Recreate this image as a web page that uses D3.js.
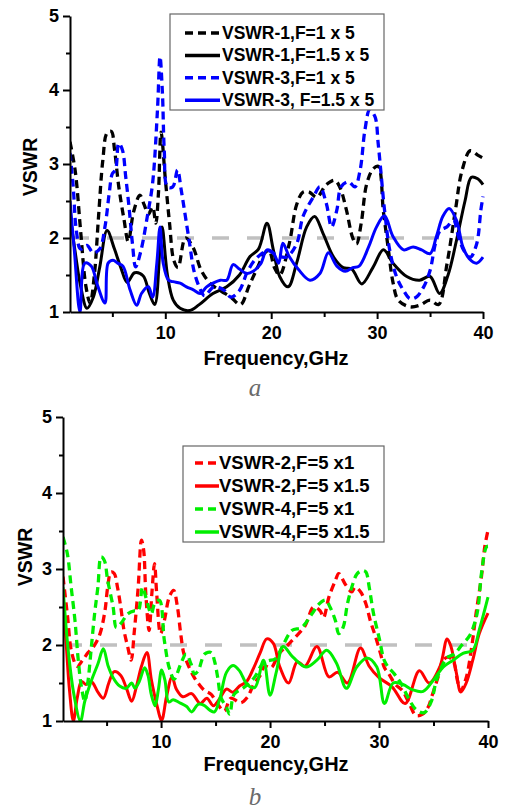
<!DOCTYPE html>
<html>
<head>
  <script src="https://d3js.org/d3.v7.min.js"></script>
  <style>
    body, html { margin: 0; padding: 0; background: #fff; }
    text { font-family: Arial, "Liberation Sans", sans-serif; }
    .tick text { font-size: 18px; font-weight: bold; fill: #000; }
    .tick line { stroke: #000; stroke-width: 2; }
    .domain { stroke: #000; stroke-width: 2; }
  </style>
</head>
<body>
  <div id="chart"></div>

  <script>
    // ---- data: [frequency GHz, VSWR] ----
    const yTicks = [1, 2, 3, 4, 5];
    const yMinor = [1.5, 2.5, 3.5, 4.5];
    const xTicks = [10, 20, 30, 40];
    const xMinor = [5, 15, 25, 35];
    const refLevel = 2;

    // panel a
    const labelsA = ["VSWR-1,F=1 x 5", "VSWR-1,F=1.5 x 5", "VSWR-3,F=1 x 5", "VSWR-3, F=1.5 x 5"];
    const vswr1_1x5 = [[1,3.3],[1.5,2.9],[2,2.1],[2.5,1.35],[2.9,1.12],[3.3,1.5],[3.7,2.3],[4.1,3.05],[4.5,3.42],[4.9,3.44],[5.2,3.2],[5.6,2.7],[6.1,2.25],[6.5,1.95],[7,2.35],[7.6,2.58],[8,2.45],[8.4,2.32],[8.8,2.42],[9.1,2.2],[9.35,2.6],[9.6,3.43],[10,2.8],[10.4,2.2],[10.8,1.7],[11.2,1.6],[11.9,2],[12.6,1.88],[13.4,1.56],[14.3,1.38],[15.3,1.28],[16.2,1.2],[17.1,1.1],[17.9,1.35],[18.7,1.6],[19.4,1.8],[19.8,1.83],[20.3,1.6],[20.8,1.5],[21.7,1.92],[22.4,2.45],[23,2.62],[23.6,2.62],[24.3,2.55],[25.2,2.72],[26,2.78],[26.5,2.68],[27.1,2.38],[27.7,2],[28.05,1.92],[28.5,2.2],[29,2.72],[29.6,2.93],[30.1,2.97],[30.6,2.35],[31.06,1.85],[31.5,1.4],[32,1.16],[33.1,1.07],[34,1.09],[35,1.16],[35.8,1.1],[36.6,1.65],[37.4,2.38],[38,2.9],[38.8,3.18],[39.5,3.12],[40,3.08]];
    const vswr1_15x5 = [[1,2.3],[1.5,1.8],[2,1.35],[2.6,1.05],[3.2,1.2],[3.8,1.6],[4.5,2.1],[5.2,1.85],[5.8,1.6],[6.4,1.4],[7.1,1.53],[7.9,1.49],[8.5,1.25],[9,1.1],[9.5,1.88],[9.7,2.15],[10.2,1.5],[10.75,1.16],[11.4,1.05],[12.3,1.02],[13.2,1.1],[14.5,1.25],[15.8,1.34],[17,1.5],[18,1.75],[18.8,1.85],[19.6,2.2],[20.2,1.84],[20.8,1.48],[21.6,1.34],[22.4,1.66],[23.35,2.15],[24.1,2.29],[24.9,2.06],[25.9,1.74],[26.8,1.6],[27.6,1.58],[28.55,1.38],[29.6,1.6],[30.6,1.84],[31.5,1.66],[32.8,1.48],[34,1.43],[35,1.48],[35.9,1.25],[36.7,1.5],[37.5,1.97],[38.3,2.5],[38.9,2.82],[39.5,2.8],[40,2.72]];
    const vswr3_1x5 = [[1,3.15],[1.3,2.7],[1.6,2.1],[2,1.85],[2.6,1.9],[3.2,1.8],[3.8,1.85],[4.3,2.15],[4.7,2.6],[5,2.87],[5.3,2.92],[5.6,3.28],[5.95,3.19],[6.26,2.83],[6.6,2.38],[6.9,1.92],[7.2,1.61],[7.7,1.83],[8.3,2.29],[8.8,2.74],[9.26,3.73],[9.5,4.45],[9.73,3.95],[9.9,3.19],[10.2,2.69],[10.7,2.69],[11.15,2.92],[11.5,2.65],[11.8,2.38],[12.3,1.92],[12.7,1.56],[13.2,1.34],[13.7,1.22],[14.6,1.34],[15.6,1.29],[16.2,1.2],[17,1.29],[17.8,1.56],[18.7,1.74],[19.7,1.83],[20.4,1.78],[21.4,1.74],[22.4,1.92],[23,2.29],[24,2.56],[24.6,2.69],[25.2,2.47],[25.7,2.15],[26.2,2.38],[26.6,2.69],[27.3,2.76],[27.9,2.69],[28.4,2.92],[28.85,3.46],[29.3,3.73],[29.8,3.64],[30.1,3.28],[30.4,2.83],[30.7,2.38],[31.2,1.83],[31.85,1.47],[32.5,1.29],[33.1,1.18],[33.7,1.2],[34.4,1.34],[35,1.56],[35.5,1.92],[35.95,2.1],[36.6,2.15],[37.2,2.24],[37.7,2.01],[38.2,1.83],[38.8,1.74],[39.4,1.92],[39.8,2.38],[40,2.56]];
    const vswr3_15x5 = [[1,2.5],[1.4,1.85],[1.94,1],[2.4,1.66],[3,1.62],[3.6,1.36],[4.3,1.12],[4.6,1.66],[5.06,1.7],[5.5,1.66],[6,1.62],[6.67,1.3],[7.3,1.09],[7.75,1.25],[8.4,1.34],[8.8,1.2],[9.2,1.66],[9.5,2.15],[9.8,1.66],[10.3,1.43],[10.75,1.41],[11.4,1.39],[12,1.34],[12.65,1.3],[13.3,1.25],[13.9,1.34],[14.5,1.39],[15.2,1.43],[15.8,1.43],[16.4,1.64],[17,1.58],[17.7,1.52],[18.3,1.55],[19,1.65],[19.6,1.84],[20.2,1.8],[20.7,1.66],[21.1,1.93],[21.7,1.75],[22.6,1.57],[23.66,1.43],[24.6,1.52],[25.4,1.8],[26.2,1.62],[27,1.55],[27.7,1.6],[28.3,1.62],[29.2,1.88],[29.95,2.15],[30.7,2.3],[31.5,2.02],[32.5,1.84],[33.4,1.88],[34.2,1.84],[35,1.79],[35.6,2.02],[36.2,2.29],[36.8,2.4],[37.5,2.24],[38.1,1.88],[38.7,1.72],[39.4,1.66],[40,1.74]];

    // panel b
    const labelsB = ["VSWR-2,F=5 x1", "VSWR-2,F=5 x1.5", "VSWR-4,F=5 x1", "VSWR-4,F=5 x1.5"];
    const vswr2_5x1 = [[1,2.9],[1.4,2.4],[1.8,1.9],[2.3,1.72],[2.8,1.8],[3.3,1.9],[3.9,2],[4.4,2.15],[4.85,2.45],[5.1,2.76],[5.4,2.96],[5.7,2.94],[6,2.76],[6.3,2.5],[6.6,2.19],[6.95,1.97],[7.25,1.8],[7.55,2.19],[7.9,2.76],[8.2,3.38],[8.4,3.25],[8.6,2.67],[8.9,2.19],[9.15,2.67],[9.4,3.07],[9.6,2.67],[9.95,2.15],[10.3,2.32],[10.75,2.63],[11.15,2.72],[11.5,2.5],[11.8,2.15],[12.1,1.88],[12.6,1.7],[13.05,1.57],[13.5,1.48],[14,1.4],[14.6,1.35],[15.2,1.22],[15.8,1.13],[16.4,1.3],[17.3,1.24],[17.9,1.31],[18.5,1.48],[19.1,1.6],[19.5,1.72],[20.1,1.7],[20.8,1.88],[21.7,2.01],[22.3,2.1],[23.2,2.25],[24,2.5],[24.6,2.45],[24.9,2.36],[25.4,2.63],[26,2.85],[26.3,2.94],[26.9,2.8],[27.5,2.7],[27.8,2.76],[28.3,2.7],[28.8,2.54],[29.2,2.32],[29.7,2.1],[30.15,1.88],[30.5,1.7],[30.9,1.62],[31.5,1.48],[32.15,1.4],[32.8,1.22],[33.4,1.07],[34,1.09],[34.5,1.18],[34.9,1.35],[35.4,1.57],[35.85,1.79],[36.3,1.84],[36.8,1.79],[37.2,1.53],[37.5,1.4],[38,1.57],[38.5,1.97],[38.9,2.41],[39.4,2.9],[39.7,3.29],[40,3.51]];
    const vswr2_5x15 = [[1,2.65],[1.3,2],[1.6,1.4],[1.95,1],[2.3,1.3],[2.7,1.52],[3.1,1.48],[3.6,1.52],[4.2,1.38],[4.7,1.3],[5.2,1.5],[5.7,1.65],[6.3,1.6],[6.85,1.42],[7.3,1.26],[7.75,1.46],[8.2,1.72],[8.7,1.9],[9.1,1.55],[9.6,1.22],[10.05,1.01],[10.5,1.32],[11,1.58],[11.4,1.42],[12,1.32],[12.8,1.36],[13.6,1.23],[14.2,1.3],[14.8,1.2],[15.4,1.3],[16,1.42],[16.6,1.38],[17.2,1.46],[17.85,1.52],[18.5,1.7],[19.1,1.9],[19.7,2.08],[20.3,2.02],[20.9,1.71],[21.7,1.5],[22.5,1.78],[23.2,1.72],[24.3,1.98],[25.4,1.58],[26.2,1.64],[27.1,1.5],[28.3,1.96],[29.1,1.72],[30,1.57],[31.2,1.45],[32.4,1.23],[33.7,1.66],[34.6,1.5],[35.6,1.72],[36.25,2.08],[36.6,1.98],[37.1,1.63],[37.5,1.38],[38,1.5],[38.6,1.8],[39.2,2.15],[40,2.42]];
    const vswr4_5x1 = [[1,3.42],[1.4,3.2],[1.75,2.76],[2.1,2.32],[2.4,1.8],[2.7,1.44],[3,1.26],[3.3,1.53],[3.6,1.97],[3.9,2.41],[4.2,2.76],[4.5,3.16],[4.8,3.11],[5.1,2.85],[5.6,2.5],[5.9,2.23],[6.3,2.28],[6.95,2.41],[7.55,2.45],[7.9,2.45],[8.3,2.76],[8.6,2.63],[9.1,2.41],[9.4,2.54],[9.85,2.59],[10.3,2.06],[10.75,1.7],[11.2,1.55],[11.8,1.75],[12.3,1.88],[12.75,1.75],[13.05,1.62],[13.4,1.66],[14,1.88],[14.6,1.9],[14.9,1.79],[15.2,1.57],[15.5,1.31],[16,1.18],[16.3,1.09],[16.7,1.35],[17.6,1.44],[18.55,1.57],[19.3,1.75],[19.8,1.79],[20.5,1.82],[21.1,1.97],[22,2.19],[22.9,2.23],[23.85,2.41],[24.5,2.54],[25.1,2.59],[25.5,2.5],[26,2.32],[26.3,2.15],[26.7,2.23],[27.1,2.54],[27.5,2.76],[28,2.94],[28.5,2.98],[28.8,2.96],[29.1,2.76],[29.5,2.41],[30,2.1],[30.5,1.79],[30.9,1.7],[31.4,1.62],[32,1.5],[32.7,1.3],[33.4,1.15],[34.15,1.11],[34.8,1.26],[35.2,1.5],[35.7,1.7],[36.3,1.84],[36.9,1.88],[37.6,2],[38.3,2.12],[38.8,2.3],[39.1,2.5],[39.4,2.94],[39.85,3.29],[40,3.3]];
    const vswr4_5x15 = [[1,2.76],[1.5,1.9],[2,1.35],[2.6,1],[3,1.26],[3.6,1.53],[4.2,1.75],[4.7,1.95],[5.15,1.72],[5.6,1.57],[6.2,1.46],[6.8,1.43],[7.3,1.5],[7.6,1.43],[8,1.52],[8.5,1.7],[8.8,1.6],[9.1,1.35],[9.45,1.2],[9.75,1.41],[10.05,1.67],[10.35,1.54],[10.7,1.25],[11.1,1.28],[11.7,1.24],[12.35,1.19],[12.8,1.12],[13.4,1.22],[13.9,1.21],[14.5,1.14],[14.9,1.12],[15.4,1.3],[16,1.64],[16.6,1.73],[17.2,1.66],[17.9,1.48],[18.6,1.44],[19.4,1.8],[20,1.34],[20.6,1.66],[21.2,1.98],[22.1,1.84],[23.3,1.71],[24.3,1.8],[25.2,1.93],[26.1,1.76],[27,1.43],[27.95,1.71],[28.9,1.83],[29.8,1.71],[30.5,1.23],[31.3,1.5],[32.2,1.48],[33.1,1.41],[34.05,1.39],[35,1.54],[35.9,1.71],[36.8,1.8],[37.7,1.89],[38.6,1.93],[39.2,2.2],[40,2.63]];

    const W = 506, H = 810;
    const svg = d3.select("#chart").append("svg")
      .attr("width", W)
      .attr("height", H);

    function drawPanel(p) {
      const x = d3.scaleLinear().domain([1, 40]).range(p.xRange);
      const y = d3.scaleLinear().domain([1, 5]).range(p.yRange);
      const g = svg.append("g");

      // clip curves to plot area
      g.append("clipPath").attr("id", p.id + "-clip")
        .append("rect")
        .attr("x", p.xRange[0]).attr("y", p.yRange[1] - 5)
        .attr("width", p.xRange[1] - p.xRange[0] + 2)
        .attr("height", p.yRange[0] - p.yRange[1] + 5);

      // grey reference line at VSWR = 2
      g.append("line")
        .attr("x1", x(1) + 2).attr("x2", x(40) - 6)
        .attr("y1", y(refLevel)).attr("y2", y(refLevel))
        .attr("stroke", "#c0c0c0").attr("stroke-width", 3.5)
        .attr("stroke-dasharray", "17,18");

      const line = d3.line()
        .x(d => x(d[0]))
        .y(d => y(d[1]))
        .curve(d3.curveCatmullRom.alpha(0.5));

      const plot = g.append("g").attr("clip-path", `url(#${p.id}-clip)`);
      p.series.forEach(s => {
        plot.append("path")
          .datum(s.data)
          .attr("fill", "none")
          .attr("stroke", s.color)
          .attr("stroke-width", s.dash ? 3.3 : 3)
          .attr("stroke-dasharray", s.dash ? "8,5" : null)
          .attr("stroke-linejoin", "round")
          .attr("d", line);
      });

      // axes
      g.append("g")
        .attr("transform", `translate(${p.xRange[0]},0)`)
        .call(d3.axisLeft(y).tickValues(yTicks).tickSize(7).tickSizeOuter(0).tickFormat(d3.format("d")))
        .call(a => a.selectAll(".tick text").attr("dx", "-1"));
      g.append("g")
        .attr("transform", `translate(${p.xRange[0]},0)`)
        .call(d3.axisLeft(y).tickValues(yMinor).tickSize(4).tickSizeOuter(0).tickFormat(""))
        .call(a => a.select(".domain").remove());
      g.append("g")
        .attr("transform", `translate(0,${p.yRange[0]})`)
        .call(d3.axisBottom(x).tickValues(xTicks).tickSize(7).tickSizeOuter(0).tickFormat(d3.format("d")))
        .call(a => a.selectAll(".tick text").attr("dy", "0.95em"));
      g.append("g")
        .attr("transform", `translate(0,${p.yRange[0]})`)
        .call(d3.axisBottom(x).tickValues(xMinor).tickSize(5).tickSizeOuter(0).tickFormat(""))
        .call(a => a.select(".domain").remove());

      // axis titles
      g.append("text")
        .attr("transform", `translate(${p.yTitle[0]},${p.yTitle[1]}) rotate(-90)`)
        .attr("text-anchor", "middle")
        .attr("font-size", 19.5).attr("font-weight", "bold")
        .text("VSWR");
      g.append("text")
        .attr("x", 276).attr("y", p.xTitleY)
        .attr("text-anchor", "middle")
        .attr("font-size", 20).attr("font-weight", "bold")
        .text("Frequency,GHz");
      g.append("text")
        .attr("x", 255).attr("y", p.tagY)
        .attr("text-anchor", "middle")
        .style("font-family", "'Liberation Serif', serif")
        .attr("font-style", "italic")
        .attr("font-size", 25)
        .attr("fill", "#6b6b6b")
        .text(p.tag);

      // legend
      const lg = g.append("g");
      lg.append("rect")
        .attr("x", p.legend.x).attr("y", p.legend.y)
        .attr("width", p.legend.w).attr("height", p.legend.h)
        .attr("fill", "#fff").attr("stroke", "#666").attr("stroke-width", 1.2);
      p.series.forEach((s, i) => {
        const ly = p.legend.y + p.legend.first + i * p.legend.step;
        lg.append("line")
          .attr("x1", p.legend.sx0).attr("x2", p.legend.sx1)
          .attr("y1", ly).attr("y2", ly)
          .attr("stroke", s.color)
          .attr("stroke-width", 3.5)
          .attr("stroke-dasharray", s.dash ? "8,5" : null);
        lg.append("text")
          .attr("x", p.legend.tx).attr("y", ly + 6)
          .attr("font-size", p.legend.fs).attr("font-weight", "bold")
          .text(s.label);
      });
    }

    drawPanel({
      id: "a",
      xRange: [70, 483],
      yRange: [312, 16],
      yTitle: [37, 167],
      xTitleY: 365,
      tag: "a",
      tagY: 396,
      legend: { x: 170, y: 14, w: 214, h: 96, first: 19, step: 22.4, sx0: 185, sx1: 220, tx: 222, fs: 17.5 },
      series: [
        { data: vswr1_1x5, color: "#000", dash: true, label: labelsA[0] },
        { data: vswr1_15x5, color: "#000", dash: false, label: labelsA[1] },
        { data: vswr3_1x5, color: "#0000ff", dash: true, label: labelsA[2] },
        { data: vswr3_15x5, color: "#0000ff", dash: false, label: labelsA[3] }
      ]
    });

    drawPanel({
      id: "b",
      xRange: [63, 488],
      yRange: [721, 417],
      yTitle: [32, 557],
      xTitleY: 771,
      tag: "b",
      tagY: 805,
      legend: { x: 183, y: 446, w: 201, h: 96, first: 17, step: 23, sx0: 195, sx1: 219, tx: 219, fs: 18.5 },
      series: [
        { data: vswr2_5x1, color: "#ff0000", dash: true, label: labelsB[0] },
        { data: vswr2_5x15, color: "#ff0000", dash: false, label: labelsB[1] },
        { data: vswr4_5x1, color: "#00ee00", dash: true, label: labelsB[2] },
        { data: vswr4_5x15, color: "#00ee00", dash: false, label: labelsB[3] }
      ]
    });
  </script>
</body>
</html>
